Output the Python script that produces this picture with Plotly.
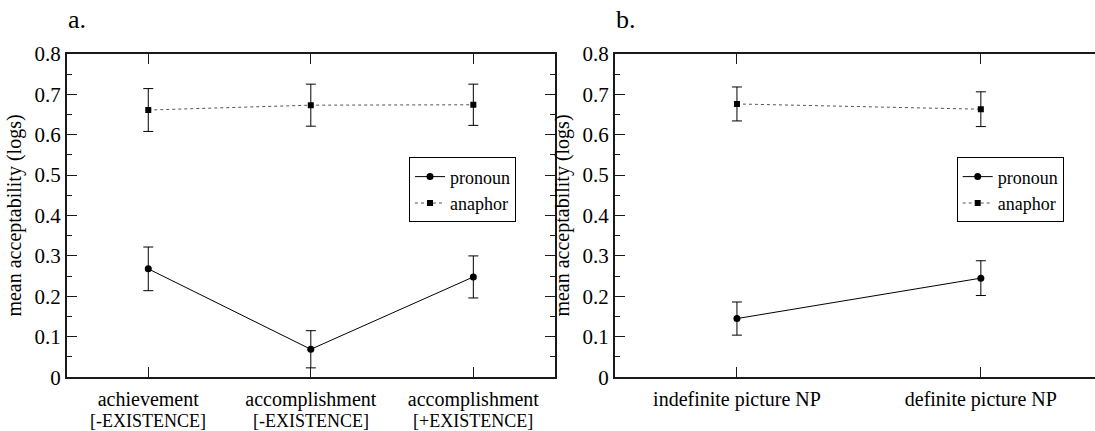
import plotly.graph_objects as go

# ---- data ----
cats_a_line1 = ["achievement", "accomplishment", "accomplishment"]
cats_a_line2 = ["[-EXISTENCE]", "[-EXISTENCE]", "[+EXISTENCE]"]
pronoun_a = [0.268, 0.069, 0.248]
pronoun_a_err = [0.054, 0.046, 0.052]
anaphor_a = [0.661, 0.673, 0.674]
anaphor_a_err = [0.053, 0.052, 0.051]

cats_b = ["indefinite picture NP", "definite picture NP"]
pronoun_b = [0.145, 0.245]
pronoun_b_err = [0.041, 0.043]
anaphor_b = [0.676, 0.663]
anaphor_b_err = [0.042, 0.043]

y_ticks = [0, 0.1, 0.2, 0.3, 0.4, 0.5, 0.6, 0.7, 0.8]
y_ticktext = ["0", "0.1", "0.2", "0.3", "0.4", "0.5", "0.6", "0.7", "0.8"]

FONT = "Liberation Serif"
W, H = 1095, 431
AX = "#1a1a1a"

xa = list(range(len(cats_a_line1)))
xb = list(range(len(cats_b)))

fig = go.Figure()

def err(vals):
    return dict(type="data", array=vals, color="black", thickness=1, width=5)

fig.add_trace(go.Scatter(x=xa, y=pronoun_a, error_y=err(pronoun_a_err), mode="lines+markers",
                         name="pronoun", line=dict(color="black", width=1),
                         marker=dict(symbol="circle", size=7, color="black"),
                         xaxis="x", yaxis="y", legend="legend"))
fig.add_trace(go.Scatter(x=xa, y=anaphor_a, error_y=err(anaphor_a_err), mode="lines+markers",
                         name="anaphor", line=dict(color="#555555", width=1, dash="dot"),
                         marker=dict(symbol="square", size=6, color="black"),
                         xaxis="x", yaxis="y", legend="legend"))
fig.add_trace(go.Scatter(x=xb, y=pronoun_b, error_y=err(pronoun_b_err), mode="lines+markers",
                         name="pronoun", line=dict(color="black", width=1),
                         marker=dict(symbol="circle", size=7, color="black"),
                         xaxis="x2", yaxis="y2", legend="legend2"))
fig.add_trace(go.Scatter(x=xb, y=anaphor_b, error_y=err(anaphor_b_err), mode="lines+markers",
                         name="anaphor", line=dict(color="#555555", width=1, dash="dot"),
                         marker=dict(symbol="square", size=6, color="black"),
                         xaxis="x2", yaxis="y2", legend="legend2"))

y_bot = 1 - 386.7 / H
y_top = 1 - 44.3 / H
tickfont = dict(family=FONT, size=20, color="black")

def yaxis(mirror):
    return dict(range=[0, 0.8], domain=[y_bot, y_top], tickvals=y_ticks, ticktext=y_ticktext,
                ticks="inside", ticklen=10, tickwidth=1, tickcolor=AX,
                minor=dict(dtick=0.05, ticks="inside", ticklen=5, tickwidth=1, tickcolor=AX),
                showline=True, linewidth=2, linecolor=AX, mirror=mirror,
                showgrid=False, zeroline=False, tickfont=dict(family=FONT, size=21, color="black"),
                title=dict(text="mean acceptability (logs)", font=dict(family=FONT, size=20, color="black"),
                           standoff=8))

def xaxis(domain, rng, vals, text, anchor):
    return dict(domain=domain, range=rng, tickvals=vals, ticktext=text,
                ticks="inside", ticklen=10, tickwidth=1, tickcolor=AX,
                showline=True, linewidth=2, linecolor=AX, mirror="ticks",
                showgrid=False, zeroline=False, tickfont=tickfont, anchor=anchor,
                ticklabelstandoff=3)

legend_style = dict(yanchor="top", xanchor="left", bordercolor="black", borderwidth=1, bgcolor="white",
                    font=dict(family=FONT, size=18, color="black"), itemwidth=30, tracegroupgap=0)

fig.update_layout(
    width=W, height=H, margin=dict(l=0, r=0, t=0, b=0),
    paper_bgcolor="white", plot_bgcolor="white",
    font=dict(family=FONT, size=20, color="black"),
    xaxis=xaxis([67 / W, 554.6 / W], [-0.5, 2.5], xa, cats_a_line1, "y"),
    yaxis=dict(**yaxis("ticks"), anchor="x"),
    xaxis2=xaxis([615 / W, 1.0], [-0.5, 1.468], xb, cats_b, "y2"),
    yaxis2=dict(**yaxis(False), anchor="x2"),
    # right-edge tick stubs of panel b (its right frame lies just outside the picture)
    yaxis3=dict(overlaying="y2", side="right", anchor="free", position=1.0,
                range=[0, 0.8], tickvals=y_ticks, ticks="inside", ticklen=3, tickwidth=1,
                tickcolor=AX, showticklabels=False, showline=False, showgrid=False,
                zeroline=False),
    legend=dict(x=409 / W, y=1 - 154 / H, **legend_style),
    legend2=dict(x=956.7 / W, y=1 - 154 / H, **legend_style),
    showlegend=True,
)

# second line of category labels
for i, t in enumerate(cats_a_line2):
    fig.add_annotation(x=i, y=1 - 433 / H, xref="x", yref="paper", text=t, showarrow=False,
                       xanchor="center", yanchor="middle",
                       font=dict(family=FONT, size=18, color="black"))

# panel letters
fig.add_annotation(x=66 / W, y=1 + 10 / H, xref="paper", yref="paper", text="a.", showarrow=False,
                   xanchor="left", yanchor="top", font=dict(family=FONT, size=26, color="black"))
fig.add_annotation(x=614 / W, y=1 + 10 / H, xref="paper", yref="paper", text="b.", showarrow=False,
                   xanchor="left", yanchor="top", font=dict(family=FONT, size=26, color="black"))

fig.write_html("out.html")
